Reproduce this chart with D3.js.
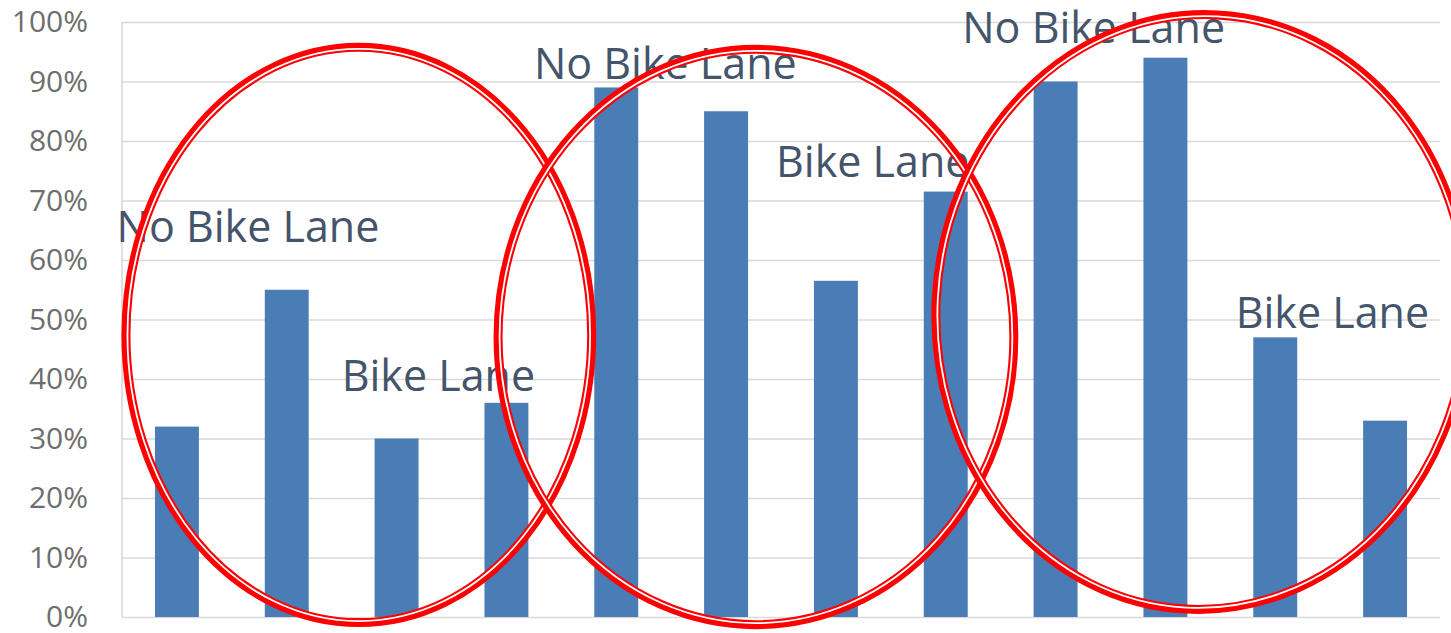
<!DOCTYPE html>
<html>
<head>
<meta charset="utf-8">
<script src="https://cdn.jsdelivr.net/npm/d3@7"></script>
<style>
  body { margin: 0; background: #fff; }
  svg { display: block; }
</style>
</head>
<body>
<div id="chart"></div>
<script>
  var svgWidth = 1451;
  var svgHeight = 633;

  // bars, left to right (no category labels are shown on the chart)
  var categories = ["1", "2", "3", "4", "5", "6", "7", "8", "9", "10", "11", "12"];
  var shares = [0.32, 0.55, 0.30, 0.36, 0.89, 0.85, 0.565, 0.715, 0.90, 0.94, 0.47, 0.33];
  var yTicks = [0, 0.1, 0.2, 0.3, 0.4, 0.5, 0.6, 0.7, 0.8, 0.9, 1];

  // annotation labels: text, bar index where it starts, value at its baseline
  var labelTexts = ["No Bike Lane", "Bike Lane", "No Bike Lane", "Bike Lane", "No Bike Lane", "Bike Lane"];
  var labelAt = [-0.05, 2.0, 3.75, 5.955, 7.65, 10.14];
  var labelBase = [0.63, 0.38, 0.905, 0.74, 0.965, 0.486];

  // red rings: centre (bar index units, value), radii (same units), tilt in degrees
  var ringCx = [2.156, 5.772, 9.83];
  var ringCy = [0.474, 0.4706, 0.5126];
  var ringRx = [2.161, 2.389, 2.46];
  var ringRy = [0.491, 0.491, 0.5076];
  var ringTilt = [0, 0, 3];

  var margin = { top: 22, right: 11, bottom: 16, left: 122 };
  var width = svgWidth - margin.left - margin.right;
  var height = svgHeight - margin.top - margin.bottom;

  var svg = d3.select("#chart")
    .append("svg")
    .attr("width", svgWidth)
    .attr("height", svgHeight);

  var chartGroup = svg.append("g")
    .attr("transform", `translate(${margin.left}, ${margin.top})`);

  var xBandScale = d3.scaleBand()
    .domain(categories)
    .range([0, width])
    .paddingInner(0.6)
    .paddingOuter(0.3);

  // same span as the band scale, but in plain bar-index units
  var xIndexScale = d3.scaleLinear()
    .domain([0, categories.length])
    .range([0, width]);

  var yLinearScale = d3.scaleLinear()
    .domain([0, 1])
    .range([height, 0]);

  // gridlines
  var leftAxis = d3.axisLeft(yLinearScale)
    .tickValues(yTicks)
    .tickFormat(d3.format(".0%"))
    .tickSize(-width)
    .tickPadding(34);

  var yAxisGroup = chartGroup.append("g").call(leftAxis);
  yAxisGroup.select(".domain").remove();
  yAxisGroup.selectAll(".tick line")
    .attr("stroke", "#d9d9d9")
    .attr("stroke-width", 1.6);
  yAxisGroup.selectAll(".tick text")
    .attr("fill", "#6e6e6e")
    .style("font-family", "'Open Sans', sans-serif")
    .style("font-size", "30px");

  // light vertical axis line on the left
  chartGroup.append("line")
    .attr("x1", 0).attr("x2", 0)
    .attr("y1", yLinearScale(1)).attr("y2", yLinearScale(0))
    .attr("stroke", "#d9d9d9")
    .attr("stroke-width", 1.6);

  // bars
  chartGroup.selectAll("rect.bar")
    .data(shares)
    .enter()
    .append("rect")
    .attr("class", "bar")
    .attr("x", (d, i) => xBandScale(categories[i]))
    .attr("y", d => yLinearScale(d))
    .attr("width", xBandScale.bandwidth())
    .attr("height", d => height - yLinearScale(d))
    .attr("fill", "#4a7db5");

  // labels
  chartGroup.selectAll("text.label")
    .data(labelTexts)
    .enter()
    .append("text")
    .attr("class", "label")
    .attr("x", (d, i) => xIndexScale(labelAt[i]))
    .attr("y", (d, i) => yLinearScale(labelBase[i]))
    .attr("fill", "#44546a")
    .style("font-family", "'Open Sans', sans-serif")
    .style("font-size", "43px")
    .text(d => d);

  // red double rings drawn over everything
  var rings = chartGroup.selectAll("g.ring")
    .data(ringCx)
    .enter()
    .append("g")
    .attr("class", "ring")
    .attr("transform", (d, i) =>
      `translate(${xIndexScale(d)}, ${yLinearScale(ringCy[i])}) rotate(${ringTilt[i]})`);

  rings.append("ellipse")
    .attr("rx", (d, i) => xIndexScale(ringRx[i]) - xIndexScale(0) - 4.5)
    .attr("ry", (d, i) => yLinearScale(0) - yLinearScale(ringRy[i]) - 4.5)
    .attr("fill", "none")
    .attr("stroke", "#ff0000")
    .attr("stroke-width", 9);

  rings.append("ellipse")
    .attr("rx", (d, i) => xIndexScale(ringRx[i]) - xIndexScale(0) - 6)
    .attr("ry", (d, i) => yLinearScale(0) - yLinearScale(ringRy[i]) - 6)
    .attr("fill", "none")
    .attr("stroke", "#ffffff")
    .attr("stroke-width", 1.8);
</script>
</body>
</html>
